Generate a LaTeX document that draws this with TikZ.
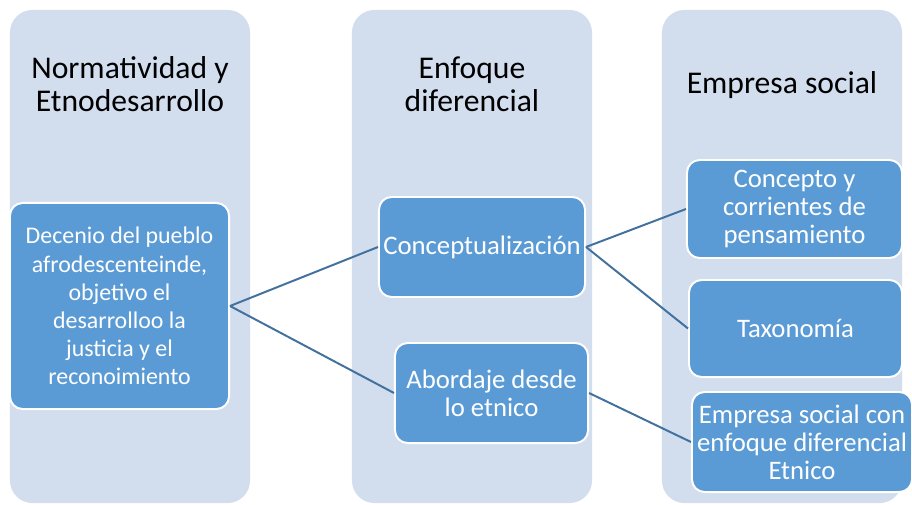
\documentclass[tikz,border=0pt]{standalone}
\usepackage{fontspec}
\setmainfont{Carlito}
\usetikzlibrary{positioning, calc}
\definecolor{colbg}{HTML}{D2DDEE}
\definecolor{boxfill}{HTML}{5B9BD5}
\definecolor{linkcol}{HTML}{41719C}

\begin{document}
\begin{tikzpicture}[x=0.025cm,y=-0.025cm,draw=linkcol]
	\def \colmid{256.5}
	\def \headht{84}
	%\def \colgap{2.5cm}
	\tikzstyle{c-node}=[fill=colbg,rounded corners=16pt,minimum width=6cm,minimum height=12.325cm,inner sep=0pt]
	\tikzstyle{h-node}=[text=black,align=center,font=\fontsize{22.5}{23.5}\selectfont]
	\tikzstyle{b-node}=[fill=boxfill,draw=white,line width=1.4pt,rounded corners=9pt,text=white,align=center,inner sep=2pt,font=\fontsize{19}{20}\selectfont]
	\useasboundingbox (0,0) rectangle (912,505);

	% columns
	\node[c-node] 	(col1)	at (130,\colmid)	{};
	\node[c-node] 	(col2)	at (472,\colmid)	{};
	\node[c-node] 	(col3)	at (782,\colmid)	{};

	% headings
	\node[h-node] 	(head1)	at (130,\headht)	{Normatividad y\\Etnodesarrollo};
	\node[h-node] 	(head2)	at (472,\headht)	{Enfoque\\diferencial};
	\node[h-node] 	(head3)	at (782,85)		{Empresa social};

	% first level
	\node[b-node,minimum width=5.475cm,minimum height=5.15cm,font=\fontsize{17}{20}\selectfont]
		(decenio)	at (119.5,306)	{Decenio del pueblo\\afrodescenteinde,\\objetivo el\\desarrolloo la\\justicia y el\\reconoimiento};

	% second level
	\node[b-node,minimum width=5.15cm,minimum height=2.5cm] 	(concep)	at (482,247)	{Conceptualización};
	\node[b-node,minimum width=4.825cm,minimum height=2.5cm] 	(abord)		at (491.5,393)	{Abordaje desde\\lo etnico};

	% third level
	\node[b-node,minimum width=5.375cm,minimum height=2.45cm] 	(corr)		at (794.5,209)	{Concepto y\\corrientes de\\pensamiento};
	\node[b-node,minimum width=5.325cm,minimum height=2.425cm] 	(taxo)		at (795.5,328.5)	{Taxonomía};
	\node[b-node,minimum width=5.5cm,minimum height=2.5cm] 	(etnico)	at (802,442)	{Empresa social con\\enfoque diferencial\\Etnico};

	\path[line width=1.4pt]
		(decenio.east)	edge	(concep.west)
		(decenio.east)	edge	(abord.west)
		%
		(concep.east)	edge	(corr.west)
		(concep.east)	edge	(taxo.west)
		(abord.east)	edge	(etnico.west);
\end{tikzpicture}
\end{document}
